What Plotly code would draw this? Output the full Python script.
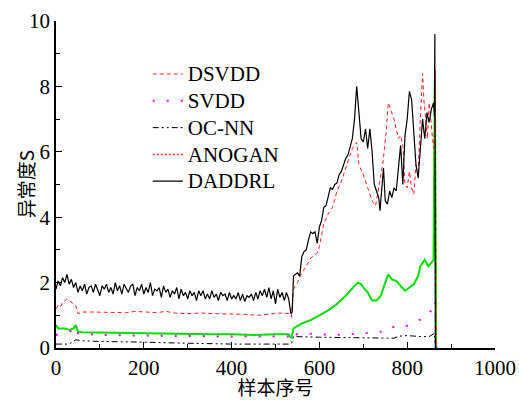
import plotly.graph_objects as go

# ---------------- data ----------------
daddrl_x = list(range(0, 535, 5)) + [535, 538, 541, 545, 550, 555, 560, 565, 570, 575, 580, 585, 590, 595, 600,
            605, 610, 615, 620, 625, 630, 635, 640, 645, 650, 655, 660, 665, 670, 675, 680, 685, 690,
            695, 700, 705, 710, 715, 720, 725, 730, 735, 738, 742, 746, 750, 755, 760, 765, 770, 775,
            780, 785, 790, 795, 800, 805, 810, 815, 820, 825, 830, 835, 840, 845, 850, 855, 860, 862,
            863, 864]
daddrl_y = [1.8, 2.05, 1.9, 2.15, 2.0, 2.25, 1.95, 2.1, 1.85, 2.0, 1.7, 1.9, 1.75, 1.95, 1.65, 1.85,
            1.9, 1.7, 1.95, 1.75, 1.6, 1.9, 1.8, 1.95, 1.7, 1.85, 1.65, 2.0, 1.75, 1.9, 1.65, 1.95,
            1.8, 1.7, 1.9, 1.95, 1.6, 1.85, 1.75, 1.95, 1.65, 1.85, 1.7, 2.0, 1.6, 1.8, 1.75, 1.85,
            1.55, 1.9, 1.7, 1.8, 1.55, 1.75, 1.65, 1.85, 1.5, 1.8, 1.6, 1.7, 1.5, 1.75, 1.6, 1.7,
            1.45, 1.75, 1.6, 1.75, 1.5, 1.65, 1.5, 1.75, 1.55, 1.65, 1.45, 1.7, 1.6, 1.65, 1.45, 1.7,
            1.5, 1.6, 1.5, 1.7, 1.45, 1.65, 1.42, 1.6, 1.55, 1.65, 1.45, 1.7, 1.5, 1.75, 1.6, 1.8,
            1.55, 1.85, 1.5, 1.75, 1.35, 1.8, 1.55, 1.7, 1.45, 1.7, 1.5,
            1.05, 1.1, 2.2, 2.25, 2.3, 2.2, 2.8, 2.95, 3.0, 3.3, 3.55, 3.5, 3.55, 3.2, 3.7,
            3.9, 4.3, 4.35, 4.6, 4.9, 4.85, 5.0, 5.05, 5.3, 5.4, 5.6, 5.8, 5.9, 6.2, 6.4, 7.0, 8.0, 7.2,
            6.4, 6.3, 6.7, 6.1, 6.7, 6.0, 5.0, 4.8, 4.6, 4.2, 4.8, 5.5, 4.5, 4.4, 4.8, 4.6, 4.9, 4.8,
            5.5, 6.2, 5.0, 6.5, 7.0, 7.85, 7.6, 6.6, 5.6, 5.2, 6.0, 7.0, 6.4, 7.2, 6.9, 7.3, 7.5, 7.1,
            9.6, 0.0]

dsvdd_x = [0, 5, 10, 15, 20, 25, 30, 35, 40, 45, 50, 60, 80, 100, 130, 160, 180, 200, 230, 250, 270,
           300, 330, 360, 400, 430, 460, 490, 510, 530, 536, 541, 550, 560, 570, 580, 590, 595, 600,
           610, 620, 630, 640, 650, 660, 670, 675, 680, 685, 690, 700, 710, 720, 728, 735, 745, 752,
           757, 762, 770, 780, 785, 790, 795, 800, 805, 810, 815, 820, 825, 830, 835, 838, 842, 846,
           850, 855, 860, 862, 864, 866]
dsvdd_y = [1.2, 1.3, 1.25, 1.4, 1.45, 1.5, 1.45, 1.4, 1.35, 1.3, 1.05, 1.1, 1.1, 1.1, 1.1, 1.08, 1.12,
           1.1, 1.08, 1.12, 1.07, 1.05, 1.07, 1.05, 1.05, 1.03, 1.0, 1.05, 1.07, 1.05, 0.95, 1.8, 2.0,
           2.3, 2.5, 2.75, 2.85, 2.9, 3.1, 3.8, 4.1, 4.3, 4.8, 5.1, 5.5, 5.9, 6.1, 6.2, 6.3, 5.6, 5.3,
           4.9, 4.5, 4.35, 4.9, 5.7, 6.6, 7.5, 7.3, 7.0, 6.4, 6.5, 6.2, 5.0, 4.9, 5.4, 4.9, 4.7, 5.6,
           5.4, 7.0, 8.4, 7.6, 7.0, 6.4, 7.5, 6.8, 6.1, 6.5, 8.5, 0.0]

svdd_x = [0, 20, 40, 45, 50, 100, 200, 300, 400, 530, 536, 541, 560, 600, 650, 700, 740, 760, 790,
          820, 840, 855, 862, 864, 866]
svdd_y = [0.4, 0.45, 0.55, 0.65, 0.45, 0.4, 0.38, 0.36, 0.35, 0.35, 0.25, 0.4, 0.45, 0.42, 0.4, 0.45,
          0.5, 0.65, 0.62, 0.8, 0.95, 1.15, 1.1, 1.4, 0.0]

ocnn_x = [0, 30, 45, 60, 100, 150, 200, 250, 300, 350, 400, 450, 530, 537, 541, 600, 650, 700, 750,
          770, 780, 800, 830, 850, 862, 865]
ocnn_y = [0.12, 0.12, 0.25, 0.22, 0.2, 0.2, 0.18, 0.16, 0.14, 0.13, 0.12, 0.12, 0.12, 0.15, 0.35,
          0.33, 0.32, 0.32, 0.32, 0.3, 0.36, 0.38, 0.35, 0.35, 0.45, 0.0]

anogan_x = [0, 5, 10, 20, 30, 40, 45, 50, 60, 100, 150, 200, 250, 300, 350, 400, 450, 500, 530, 536,
            541, 560, 580, 600, 620, 640, 660, 680, 688, 695, 700, 710, 720, 730, 740, 750, 757, 765,
            775, 785, 795, 805, 815, 825, 830, 840, 848, 855, 860, 863, 866, 870]
anogan_y = [0.7, 0.6, 0.6, 0.6, 0.55, 0.6, 0.7, 0.5, 0.48, 0.47, 0.46, 0.45, 0.44, 0.43, 0.42, 0.42,
            0.4, 0.42, 0.42, 0.3, 0.6, 0.75, 0.85, 1.0, 1.15, 1.35, 1.6, 1.9, 2.0, 1.95, 1.85, 1.7, 1.45,
            1.45, 1.6, 2.0, 2.25, 2.1, 2.05, 1.9, 1.75, 1.85, 1.95, 2.2, 2.5, 2.7, 2.5, 2.6, 2.7, 8.2,
            0.0, 0.0]

xticks = [0, 200, 400, 600, 800, 1000]
yticks = [0, 2, 4, 6, 8, 10]

FONT = "Times New Roman, Liberation Serif, DejaVu Serif, serif"
CJK = "Noto Sans CJK SC"


def lbl(s):
    return f'<span style="font-size:21px">{s}</span>'


fig = go.Figure()
fig.add_trace(go.Scatter(x=anogan_x, y=anogan_y, mode="lines", line=dict(color="#00e000", width=2),
                         showlegend=False, legendgroup="a"))
fig.add_trace(go.Scatter(x=svdd_x, y=svdd_y, mode="lines", name=lbl("SVDD"),
                         line=dict(color="#ff00ff", width=2, dash="2px,12px"), legendrank=2))
fig.add_trace(go.Scatter(x=ocnn_x, y=ocnn_y, mode="lines", name=lbl("OC-NN"),
                         line=dict(color="black", width=1, dash="6px,3px,2px,3px,2px,3px"), legendrank=3))
fig.add_trace(go.Scatter(x=dsvdd_x, y=dsvdd_y, mode="lines", name=lbl("DSVDD"),
                         line=dict(color="#ff2020", width=1, dash="4px,3px"), legendrank=1))
fig.add_trace(go.Scatter(x=[None], y=[None], mode="lines", name=lbl("ANOGAN"), legendgroup="a",
                         line=dict(color="#ff3030", width=1.5, dash="2px,2px"), legendrank=4))
fig.add_trace(go.Scatter(x=daddrl_x, y=daddrl_y, mode="lines", name=lbl("DADDRL"),
                         line=dict(color="black", width=1.2), legendrank=5))

fig.update_layout(
    width=519, height=400,
    margin=dict(l=56, r=24, t=21, b=52),
    paper_bgcolor="white", plot_bgcolor="white",
    font=dict(family=FONT, size=21, color="black"),
    legend=dict(x=0.209, y=0.894, xanchor="left", yanchor="top", bgcolor="rgba(0,0,0,0)",
                font=dict(family=FONT, size=18.3), tracegroupgap=0, itemwidth=30),
    xaxis=dict(range=[0, 1000], tickvals=xticks, ticktext=[str(v) for v in xticks],
               ticks="inside", ticklen=6, tickcolor="black", automargin=False,
               showline=True, linecolor="black", linewidth=1.5, showgrid=False, zeroline=False,
               minor=dict(tickvals=[100, 300, 500, 700, 900], ticks="inside", ticklen=4, tickcolor="black"),
               title=dict(text="样本序号", font=dict(family=CJK, size=19), standoff=0),
               tickfont=dict(family=FONT, size=21)),
    yaxis=dict(range=[0, 10], tickvals=yticks, ticktext=[str(v) for v in yticks],
               ticks="inside", ticklen=6, tickcolor="black", automargin=False,
               showline=True, linecolor="black", linewidth=1.5, showgrid=False, zeroline=False,
               minor=dict(tickvals=[1, 3, 5, 7, 9], ticks="inside", ticklen=4, tickcolor="black"),
               tickfont=dict(family=FONT, size=21)),
    annotations=[dict(text="异常度S", xref="paper", yref="paper", x=-0.069, y=0.5,
                      xanchor="center", yanchor="middle", textangle=-90, showarrow=False,
                      font=dict(family=CJK, size=19, color="black"))],
)

fig.write_html("out.html")
